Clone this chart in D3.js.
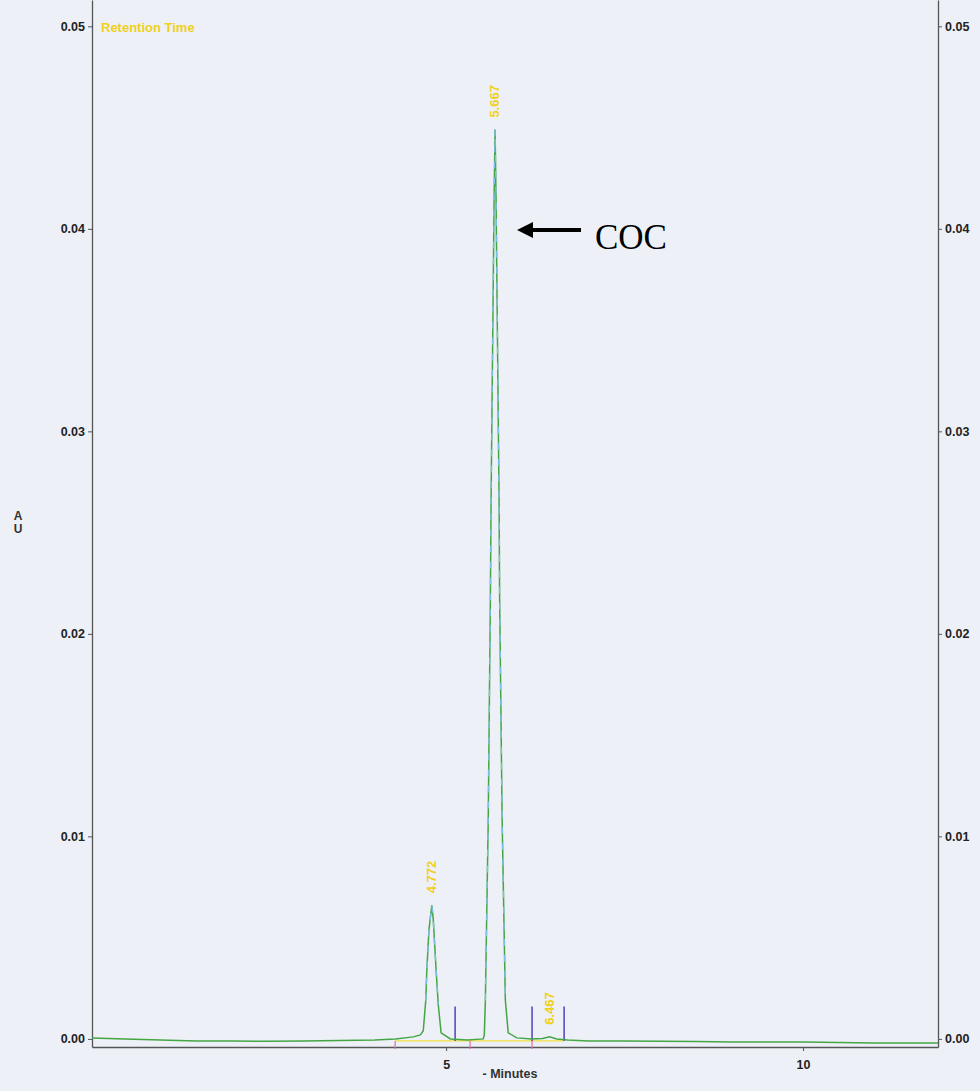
<!DOCTYPE html>
<html>
<head>
<meta charset="utf-8">
<script src="https://cdn.jsdelivr.net/npm/d3@7"></script>
<style>
  body { margin: 0; background: #edf1f7; }
  svg { display: block; }
</style>
</head>
<body>
<div id="chart"></div>
<script>
// trace (minutes, AU)
var traceTime = [0.04, 0.5, 1, 1.5, 2, 2.5, 3, 3.5, 4, 4.29, 4.54, 4.64, 4.68, 4.715, 4.73, 4.76, 4.80, 4.82, 4.86, 4.89, 4.93, 5.06, 5.3, 5.52, 5.535, 5.55, 5.59, 5.62, 5.63, 5.672, 5.686, 5.70, 5.742, 5.75, 5.785, 5.83, 5.87, 5.99, 6.2, 6.35, 6.45, 6.55, 6.7, 7, 7.5, 8, 8.5, 9, 9.5, 10, 10.5, 11, 11.5, 11.89];
var traceAU = [0.00005, 0.0, -0.00005, -0.0001, -0.0001, -0.00012, -0.0001, -0.00008, -0.00005, 0, 0.0001, 0.0002, 0.0004, 0.0019, 0.0034, 0.0054, 0.0066, 0.0059, 0.0034, 0.0017, 0.0003, 0.0, -0.00005, 0, 0.0002, 0.0019, 0.0108, 0.0217, 0.0266, 0.0414, 0.0449, 0.0414, 0.0266, 0.0217, 0.0108, 0.0019, 0.0003, 0.00005, 0.0, 0.00002, 0.0001, 0.0, -0.00005, -0.0001, -0.0001, -0.00012, -0.00013, -0.00015, -0.00015, -0.00015, -0.00018, -0.0002, -0.0002, -0.0002];

var peakTime = [4.80, 5.686, 6.45];
var peakAU = [0.0066, 0.0449, 0.0001];
var peakLabels = ["4.772", "5.667", "6.467"];
var peakStart = [4.54, 5.52];
var peakEnd = [5.06, 6.0];

var dropLines = [5.126, 6.204, 6.653];       // purple integration marks
var baselineMarks = [4.286, 5.336, 6.204];   // pink baseline ticks
var integBaseline = [4.286, 6.653];

var yTicks = [0.00, 0.01, 0.02, 0.03, 0.04, 0.05];
var xTicks = [5, 10];

var width = 980, height = 1091;
var svg = d3.select("#chart").append("svg")
    .attr("width", width)
    .attr("height", height);

var x = d3.scaleLinear().domain([0.04, 11.89]).range([92, 938]);
var y = d3.scaleLinear().domain([-0.0004, 0.0513]).range([1047, 0]);

var axisFont = "Arial, 'Liberation Sans', sans-serif";

// axes
var left = svg.append("g")
    .attr("transform", "translate(" + x.range()[0] + ",0)")
    .call(d3.axisLeft(y).tickValues(yTicks).tickFormat(d3.format(".2f")).tickSize(4).tickSizeOuter(0));
var right = svg.append("g")
    .attr("transform", "translate(" + x.range()[1] + ",0)")
    .call(d3.axisRight(y).tickValues(yTicks).tickFormat(d3.format(".2f")).tickSize(4).tickSizeOuter(0));
var bottom = svg.append("g")
    .attr("transform", "translate(0," + y.range()[0] + ")")
    .call(d3.axisBottom(x).tickValues(xTicks).tickFormat(d3.format("d")).tickSize(4).tickSizeOuter(0));

[left, right, bottom].forEach(function (g) {
    g.select(".domain").attr("stroke", "#555").attr("stroke-width", 1.3);
    g.selectAll(".tick line").attr("stroke", "#555");
    g.selectAll("text")
        .attr("font-family", axisFont)
        .attr("font-size", 12.5)
        .attr("font-weight", "bold")
        .attr("fill", "#222");
});
bottom.selectAll("text").attr("dy", "1.2em");

svg.append("text")
    .attr("x", 510).attr("y", 1078)
    .attr("text-anchor", "middle")
    .attr("font-family", axisFont).attr("font-size", 12.5).attr("font-weight", "bold")
    .attr("fill", "#333")
    .text("- Minutes");

svg.append("text")
    .attr("x", 18).attr("y", 520)
    .attr("text-anchor", "middle")
    .attr("font-family", axisFont).attr("font-size", 12).attr("font-weight", "bold")
    .attr("fill", "#333")
    .selectAll("tspan").data(["A", "U"]).enter().append("tspan")
    .attr("x", 18).attr("dy", function (d, i) { return i ? "1.05em" : 0; })
    .text(function (d) { return d; });

svg.append("text")
    .attr("x", 101).attr("y", 32)
    .attr("font-family", axisFont).attr("font-size", 13).attr("font-weight", "bold")
    .attr("fill", "#f0d020")
    .text("Retention Time");

// integration baseline and marks
svg.append("line")
    .attr("x1", x(integBaseline[0])).attr("x2", x(integBaseline[1]))
    .attr("y1", y(-0.0001)).attr("y2", y(-0.0001))
    .attr("stroke", "#f2e040").attr("stroke-width", 1.2);

svg.selectAll(".bmark").data(baselineMarks).enter().append("line")
    .attr("x1", d => x(d)).attr("x2", d => x(d))
    .attr("y1", y(-0.0001)).attr("y2", y(-0.0001) + 8)
    .attr("stroke", "#e070a8").attr("stroke-width", 1.2);

svg.selectAll(".drop").data(dropLines).enter().append("line")
    .attr("x1", d => x(d)).attr("x2", d => x(d))
    .attr("y1", y(-0.0001)).attr("y2", y(0.0016))
    .attr("stroke", "#5a4cc0").attr("stroke-width", 1.6);

// trace
var pts = traceTime.map(function (t, i) { return [t, traceAU[i]]; });
var line = d3.line().x(d => x(d[0])).y(d => y(d[1]));

svg.append("path")
    .datum(pts)
    .attr("fill", "none")
    .attr("stroke", "#44a544")
    .attr("stroke-width", 1.5)
    .attr("d", line);

peakStart.forEach(function (s, i) {
    var seg = pts.filter(p => p[0] >= s && p[0] <= peakEnd[i] && p[1] > 0.0015);
    svg.append("path")
        .datum(seg)
        .attr("fill", "none")
        .attr("stroke", "#7fbde8")
        .attr("stroke-width", 1.3)
        .attr("stroke-dasharray", "7,9")
        .attr("d", line);
});

// peak labels
svg.selectAll(".plabel").data(peakTime).enter().append("text")
    .attr("transform", function (d, i) {
        return "translate(" + (x(d) + 4) + "," + (y(peakAU[i]) - 12) + ") rotate(-90)";
    })
    .attr("font-family", axisFont).attr("font-size", 13).attr("font-weight", "bold")
    .attr("fill", "#f0d020")
    .text(function (d, i) { return peakLabels[i]; });

// COC annotation
svg.append("line")
    .attr("x1", 581).attr("x2", 530)
    .attr("y1", 230).attr("y2", 230)
    .attr("stroke", "#000").attr("stroke-width", 4);
svg.append("path")
    .attr("d", "M517,230 L533,222 L533,238 Z")
    .attr("fill", "#000");
svg.append("text")
    .attr("x", 595).attr("y", 249)
    .attr("font-family", "'Liberation Serif', 'Times New Roman', serif")
    .attr("font-size", 35)
    .attr("fill", "#000")
    .text("COC");
</script>
</body>
</html>
